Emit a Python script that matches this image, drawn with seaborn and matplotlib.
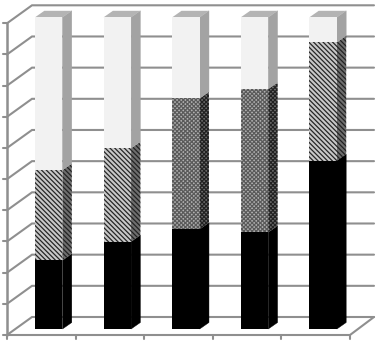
import matplotlib
matplotlib.use("Agg")
import matplotlib.pyplot as plt
import seaborn as sns
from matplotlib.patches import Polygon

# stacked shares (percent)
categories = ["A", "B", "C", "D", "E"]
black_share = [22, 28, 32, 31, 54]
hatch_share = [29, 30, 42, 46, 38]
light_share = [49, 42, 26, 23, 8]
tick_values = list(range(0, 101, 10))

GRID = "#8f8f8f"
W, H = 380, 342

# picture layout: bar centres are 68.6 px apart, 100% is 311.7 px tall
X0, XSTEP = 48.75, 68.6
Y0, YSCALE = 329.0, 3.117


def dx(px):
    return px / XSTEP


def dy(px):
    return px / YSCALE


def xval(px):
    return (px - X0) / XSTEP


def yval(py):
    return (Y0 - py) / YSCALE


sns.set_theme(style="white")
plt.rcParams["hatch.linewidth"] = 0.9

fig = plt.figure(figsize=(W / 100, H / 100), dpi=100)
ax = fig.add_axes([0, 0, 1, 1])

# walls and floor, behind the bars
floor_front = yval(335)
floor_back = yval(317)
for v in tick_values:
    ax.plot([xval(7), xval(32), xval(374)],
            [floor_front + v, floor_back + v, floor_back + v],
            color=GRID, lw=1.5, zorder=1, solid_joinstyle="miter")
    ax.plot([xval(3), xval(7)], [floor_front + v, floor_front + v], color=GRID, lw=1.5, zorder=1)

ax.plot([xval(7), xval(7)], [floor_front, floor_front + 100], color=GRID, lw=1.8, zorder=1)
ax.plot([xval(7), xval(350), xval(374)], [floor_front, floor_front, floor_back],
        color=GRID, lw=1.5, zorder=1)
for i in range(len(categories) + 1):
    x = xval(7) + i * 1.0
    ax.plot([x, x], [floor_front, floor_front - dy(4)], color=GRID, lw=1.5, zorder=1)

# front faces of the stack
diag = "\\" * 7
dots = "x" * 8
hatches = [diag, diag, dots, dots, diag]
edges = ["#262626", "#262626", "#5a5a5a", "#5a5a5a", "#262626"]
faces = ["#c8c8c8", "#c8c8c8", "#b0b0b0", "#b0b0b0", "#c8c8c8"]
bottom_hatch = black_share
bottom_light = [a + b for a, b in zip(black_share, hatch_share)]

sns.barplot(x=categories, y=black_share, color="black", saturation=1, width=0.4,
            linewidth=0, ax=ax, zorder=3)
sns.barplot(x=categories, y=hatch_share, bottom=bottom_hatch, color="#c8c8c8", saturation=1,
            width=0.4, linewidth=0, ax=ax, zorder=3)
sns.barplot(x=categories, y=light_share, bottom=bottom_light, color="#f2f2f2", saturation=1,
            width=0.4, linewidth=0, ax=ax, zorder=3)

bars = list(ax.patches)
n = len(categories)
black_bars, hatch_bars, light_bars = bars[:n], bars[n:2 * n], bars[2 * n:3 * n]

for bar, h, e, f in zip(hatch_bars, hatches, edges, faces):
    bar.set_hatch(h)
    bar.set_facecolor(f)
    bar.set_edgecolor(e)
    bar.set_linewidth(0)

# sides and tops, offset from the front faces
ox, oy = dx(9.3), dy(6.5)
for group, side_color, edge, use_hatch in [(black_bars, "black", "black", False),
                                           (hatch_bars, "#6e6e6e", "#222222", True),
                                           (light_bars, "#a3a3a3", "#a3a3a3", False)]:
    for i, bar in enumerate(group):
        x1 = bar.get_x() + bar.get_width()
        y0 = bar.get_y()
        y1 = y0 + bar.get_height()
        side = Polygon([(x1, y0), (x1 + ox, y0 + oy), (x1 + ox, y1 + oy), (x1, y1)],
                       closed=True, facecolor=side_color, edgecolor=edge, linewidth=0.3, zorder=2.5)
        if use_hatch:
            side.set_hatch(hatches[i])
            side.set_linewidth(0)
        ax.add_patch(side)

for bar in light_bars:
    x0 = bar.get_x()
    x1 = x0 + bar.get_width()
    y1 = bar.get_y() + bar.get_height()
    top = Polygon([(x0, y1), (x0 + ox, y1 + oy), (x1 + ox, y1 + oy), (x1, y1)],
                  closed=True, facecolor="#b4b4b4", linewidth=0, zorder=2.5)
    ax.add_patch(top)

ax.set_xlim(xval(0), xval(W))
ax.set_ylim(yval(H), yval(0))
ax.axis("off")

fig.savefig("out.png", dpi=100, facecolor="white")
plt.close()
